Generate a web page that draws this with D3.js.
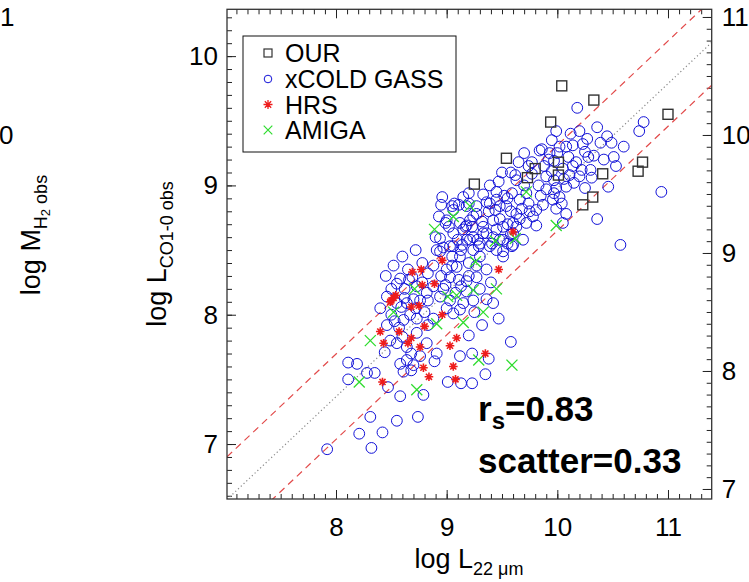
<!DOCTYPE html>
<html>
<head>
<meta charset="utf-8">
<script src="https://cdn.jsdelivr.net/npm/d3@7"></script>
<style>
  html, body { margin: 0; padding: 0; background: #fff; }
  svg { display: block; font-family: "Liberation Sans", Arial, Helvetica, sans-serif; }
</style>
</head>
<body>
<svg id="chart" width="749" height="582"></svg>
<script>
// ---- data (log luminosities) ----
const ourX = [10.04, 10.33, 11.00, 9.94, 9.54, 9.25, 10.01, 10.01, 9.80, 9.73, 10.41, 10.77, 10.73, 10.32, 10.23];
const ourY = [9.77, 9.66, 9.55, 9.49, 9.21, 9.01, 9.18, 9.08, 9.13, 9.06, 9.09, 9.18, 9.11, 8.91, 8.85];

const coldX = [10.18, 10.78, 10.74, 9.99, 10.20, 10.36, 10.27, 10.39, 10.49, 10.23, 10.14, 10.08, 9.86, 10.51, 10.53,
  10.28, 10.22, 10.30, 10.14, 10.05, 10.11, 10.20, 10.31, 10.08, 10.46, 10.94, 10.36, 10.57, 9.92, 9.97,
  9.88, 9.95, 9.90, 9.97, 9.99, 9.97, 10.02, 10.04, 10.08, 10.05, 9.84, 9.77, 9.74, 9.77, 9.83,
  9.96, 9.99, 9.87, 9.81, 9.78, 9.74, 9.66, 9.72, 9.63, 9.59, 9.47, 9.39, 9.33, 9.45, 9.48,
  9.39, 9.44, 9.27, 9.20, 9.11, 9.05, 8.96, 8.95, 8.99, 9.06, 9.18, 9.24, 9.32, 9.36, 9.45,
  9.48, 9.41, 9.51, 9.63, 9.72, 9.81, 9.69, 9.60, 9.29, 9.21, 9.14, 9.03, 8.94, 8.72,
  8.94, 8.91, 8.88, 8.58, 8.69, 8.73, 8.46, 9.42, 9.47, 8.46, 9.20, 9.58, 8.44, 8.89, 9.12,
  9.23, 9.38, 8.11, 8.19, 8.11, 8.28, 8.35, 8.47, 8.58, 8.79, 9.01, 9.13, 9.23, 9.35, 8.31,
  8.55, 8.74, 8.21, 8.42, 8.32, 7.92,
  8.82, 8.88, 8.99, 9.03, 9.11, 9.18, 9.27, 9.36, 9.00, 9.09, 8.83, 8.55, 8.59, 8.64, 8.76,
  8.83, 8.94, 9.03, 9.08, 9.15, 9.24, 8.53, 8.61, 8.67, 8.73, 8.88, 9.06, 9.12, 8.49, 8.55,
  8.64, 8.68, 8.82, 8.91, 8.58, 8.64, 8.70, 8.76, 8.61, 8.68, 9.17, 9.24, 9.33, 9.42, 9.51,
  9.60, 9.20, 9.36, 9.06, 9.24, 9.45, 9.51,
  9.06, 9.18, 9.27, 9.54, 9.63, 9.00, 9.12, 9.21, 9.33, 9.42, 9.51, 9.60, 9.18, 9.30, 9.39,
  9.59, 8.45, 8.52, 8.60, 8.65, 8.78, 8.50, 8.62, 8.40, 8.70, 8.80, 9.18, 9.30, 9.36, 9.25,
  9.32, 9.40, 9.20, 9.30, 9.12, 9.55, 9.55, 9.58, 9.52, 9.68, 9.50, 9.58, 9.65, 9.70, 9.95,
  10.00, 10.10, 10.15, 10.25, 10.42, 10.45, 10.60,
  8.90, 8.97, 9.05, 9.10, 9.15, 9.02, 8.93, 9.07, 9.15, 9.23, 9.28, 9.13,
  8.50, 8.57, 8.62, 8.72, 8.78, 8.66, 8.55, 8.83, 8.73, 8.60,
  9.55, 9.62, 9.70, 9.66, 9.75, 9.85, 9.90, 9.58, 9.45, 9.38, 9.48,
  10.02, 10.12, 10.17, 10.25, 10.33, 9.93, 10.06,
  8.95, 9.00, 9.05, 9.13, 9.20, 9.27, 8.97];
const coldY = [9.60, 9.49, 9.42, 9.42, 9.42, 9.45, 9.36, 9.33, 9.33, 9.32, 9.31, 9.30, 9.28, 9.22, 9.15,
  9.22, 9.12, 9.12, 9.15, 9.13, 9.08, 9.07, 9.06, 8.99, 8.99, 8.95, 8.74, 8.54, 9.20, 9.19,
  9.15, 9.11, 9.07, 9.04, 8.98, 8.94, 8.91, 8.86, 8.78, 8.71, 9.27, 9.18, 9.15, 9.09, 9.00,
  8.89, 8.82, 8.85, 8.81, 8.76, 8.86, 8.89, 8.94, 9.04, 8.94, 9.03, 9.00, 8.93, 8.89, 8.84,
  8.86, 8.81, 8.84, 8.94, 8.85, 8.84, 8.91, 8.85, 8.71, 8.63, 8.69, 8.76, 8.72, 8.63, 8.66,
  8.58, 8.55, 8.49, 8.68, 8.71, 8.69, 8.58, 8.54, 8.53, 8.58, 8.54, 8.53, 8.49, 8.50,
  8.59, 8.50, 8.38, 8.28, 8.29, 8.22, 8.14, 8.09, 7.97, 7.92, 7.84, 7.79, 7.71, 7.64, 7.68,
  7.70, 7.66, 7.63, 7.62, 7.50, 7.55, 7.55, 7.44, 7.37, 7.38, 7.48, 7.47, 7.47, 7.54, 7.21,
  7.18, 7.21, 7.08, 7.09, 6.97, 6.96,
  8.17, 8.22, 8.23, 8.29, 8.27, 8.26, 8.29, 8.35, 8.35, 8.37, 8.32, 8.09, 8.06, 8.09, 8.11,
  8.11, 8.14, 8.11, 8.17, 8.09, 8.11, 7.95, 7.96, 8.00, 7.97, 7.97, 8.01, 8.04, 7.80, 7.78,
  7.75, 7.70, 7.78, 7.70, 7.62, 7.65, 7.61, 7.68, 7.56, 7.57, 8.68, 8.60, 8.63, 8.60, 8.58,
  8.63, 8.86, 8.87, 8.53, 8.50, 8.50, 8.45,
  8.81, 8.84, 8.78, 8.84, 8.78, 8.73, 8.71, 8.73, 8.68, 8.73, 8.68, 8.71, 8.58, 8.55, 8.53,
  8.53, 8.30, 8.38, 8.45, 8.35, 8.40, 8.20, 8.20, 8.05, 8.12, 8.02, 8.18, 8.20, 8.12, 8.02,
  7.92, 8.25, 8.40, 8.45, 8.45, 8.55, 8.70, 8.80, 8.92, 8.82, 9.10, 9.10, 9.18, 9.25, 9.35,
  9.25, 9.22, 9.02, 8.98, 9.20, 9.38, 9.30,
  8.60, 8.52, 8.45, 8.58, 8.66, 8.68, 8.76, 8.86, 8.91, 8.68, 8.58, 8.50,
  8.00, 7.90, 8.13, 8.05, 8.25, 8.27, 8.24, 7.92, 7.86, 7.83,
  8.90, 9.08, 9.00, 8.74, 8.80, 8.92, 8.97, 8.62, 8.95, 8.80, 8.74,
  9.30, 9.40, 9.18, 9.26, 9.23, 9.25, 9.05,
  8.30, 8.05, 8.38, 8.22, 8.30, 8.38, 8.20];

const hrsX = [9.60, 8.69, 8.77, 8.96, 9.47, 8.89, 8.78, 8.50, 8.52, 8.49, 8.54, 8.68, 8.75, 8.96, 8.80,
  8.40, 8.57, 8.43, 8.65, 8.68, 8.76, 9.03, 9.09, 9.35, 9.06, 8.79, 8.84, 9.08, 8.42];
const hrsY = [8.64, 8.33, 8.35, 8.42, 8.35, 8.24, 8.23, 8.11, 8.13, 8.10, 8.15, 8.06, 8.07, 8.00, 7.91,
  7.87, 7.87, 7.78, 7.78, 7.82, 7.75, 7.76, 7.82, 7.70, 7.60, 7.59, 7.52, 7.50, 7.48];

const amigaX = [9.72, 9.21, 9.06, 8.89, 9.62, 9.99, 8.71, 8.31, 8.52, 8.91, 9.15, 9.33, 9.24, 9.09, 9.01,
  9.26, 9.45, 9.29, 9.59, 8.21, 8.73, 9.44];
const amigaY = [8.95, 8.84, 8.76, 8.66, 8.59, 8.69, 8.20, 7.80, 8.02, 7.93, 7.94, 8.02, 8.19, 8.15, 8.14,
  8.41, 8.20, 7.65, 7.61, 7.48, 7.42, 8.57];

// fit line and its scatter band
const fitSlope = 0.807, fitIntercept = 0.91, fitScatter = 0.33;

// axis ticks
const xMajor = [8, 9, 10, 11];
const yMajor = [7, 8, 9, 10];
const yRightMajor = [7, 8, 9, 10, 11];

const legendNames = ["OUR", "xCOLD GASS", "HRS", "AMIGA"];

// ---- layout ----
const frame = { left: 227, right: 711.7, top: 9.3, bottom: 499 };
const x = d3.scaleLinear().domain([7.015, 11.395]).range([frame.left, frame.right]);
const y = d3.scaleLinear().domain([6.575, 10.362]).range([frame.bottom, frame.top]);
const yRight = d3.scaleLinear().domain([6.915, 11.065]).range([frame.bottom, frame.top]);

const svg = d3.select("#chart");
const ink = "#222";
const fontFam = '"Liberation Sans", Arial, Helvetica, sans-serif';

svg.append("defs").append("clipPath").attr("id", "plotClip")
  .append("rect")
  .attr("x", frame.left).attr("y", frame.top)
  .attr("width", frame.right - frame.left).attr("height", frame.bottom - frame.top);

// ---- axes (IDL-style inward ticks) ----
function minorRange(scale) {
  const [a, b] = scale.domain();
  return d3.range(Math.ceil(a * 10), Math.floor(b * 10) + 1).map(v => v / 10);
}
function styleAxis(g, size) {
  g.select(".domain").remove();
  g.attr("font-family", fontFam).attr("font-size", size);
  g.selectAll(".tick line").attr("stroke", ink).attr("stroke-width", 1);
  g.selectAll(".tick text").attr("fill", "#000");
}

// bottom
svg.append("g").attr("transform", `translate(0,${frame.bottom})`)
  .call(d3.axisBottom(x).tickValues(minorRange(x)).tickFormat("").tickSize(-5).tickSizeOuter(0))
  .call(g => styleAxis(g, 26));
svg.append("g").attr("transform", `translate(0,${frame.bottom})`)
  .call(d3.axisBottom(x).tickValues(xMajor).tickFormat(d3.format("d")).tickSize(-9).tickPadding(19).tickSizeOuter(0))
  .call(g => styleAxis(g, 26));
// top
svg.append("g").attr("transform", `translate(0,${frame.top})`)
  .call(d3.axisTop(x).tickValues(minorRange(x)).tickFormat("").tickSize(-5).tickSizeOuter(0))
  .call(g => styleAxis(g, 26));
svg.append("g").attr("transform", `translate(0,${frame.top})`)
  .call(d3.axisTop(x).tickValues(xMajor).tickFormat("").tickSize(-9).tickSizeOuter(0))
  .call(g => styleAxis(g, 26));
// left
svg.append("g").attr("transform", `translate(${frame.left},0)`)
  .call(d3.axisLeft(y).tickValues(minorRange(y)).tickFormat("").tickSize(-5).tickSizeOuter(0))
  .call(g => styleAxis(g, 26));
svg.append("g").attr("transform", `translate(${frame.left},0)`)
  .call(d3.axisLeft(y).tickValues(yMajor).tickFormat(d3.format("d")).tickSize(-9).tickPadding(9).tickSizeOuter(0))
  .call(g => styleAxis(g, 26));
// right
svg.append("g").attr("transform", `translate(${frame.right},0)`)
  .call(d3.axisRight(yRight).tickValues(minorRange(yRight)).tickFormat("").tickSize(-5).tickSizeOuter(0))
  .call(g => styleAxis(g, 26));
svg.append("g").attr("transform", `translate(${frame.right},0)`)
  .call(d3.axisRight(yRight).tickValues(yRightMajor).tickFormat(d3.format("d")).tickSize(-9).tickPadding(10).tickSizeOuter(0))
  .call(g => styleAxis(g, 26));

// ---- fit line and scatter band ----
const lines = svg.append("g").attr("clip-path", "url(#plotClip)");
const xs = x.domain();
[[0, "#888", "1.2,2.6"], [fitScatter, "#e24a4a", "7,5"], [-fitScatter, "#e24a4a", "7,5"]].forEach(([off, col, dash]) => {
  lines.append("line")
    .attr("x1", x(xs[0])).attr("y1", y(fitSlope * xs[0] + fitIntercept + off))
    .attr("x2", x(xs[1])).attr("y2", y(fitSlope * xs[1] + fitIntercept + off))
    .attr("stroke", col).attr("stroke-width", 1.2).attr("stroke-dasharray", dash);
});

// ---- markers ----
const blue = "#1212d8", red = "#ee1c1c", green = "#2fdc2f", squareInk = "#333";
function asteriskPath(r) {
  const a = r * Math.SQRT1_2;
  return `M0,${-r}L0,${r}M${-r},0L${r},0M${-a},${-a}L${a},${a}M${-a},${a}L${a},${-a}`;
}
function crossPath(r) {
  return `M${-r},${-r}L${r},${r}M${-r},${r}L${r},${-r}`;
}
const pts = svg.append("g").attr("clip-path", "url(#plotClip)");

pts.append("g").selectAll("circle").data(d3.zip(coldX, coldY)).join("circle")
  .attr("cx", d => x(d[0])).attr("cy", d => y(d[1])).attr("r", 5.4)
  .attr("fill", "none").attr("stroke", blue).attr("stroke-width", 1);

pts.append("g").selectAll("path").data(d3.zip(amigaX, amigaY)).join("path")
  .attr("transform", d => `translate(${x(d[0])},${y(d[1])})`)
  .attr("d", crossPath(5.5)).attr("stroke", green).attr("stroke-width", 1.3).attr("fill", "none");

pts.append("g").selectAll("path").data(d3.zip(hrsX, hrsY)).join("path")
  .attr("transform", d => `translate(${x(d[0])},${y(d[1])})`)
  .attr("d", asteriskPath(4.3)).attr("stroke", red).attr("stroke-width", 1.6).attr("fill", "none");

pts.append("g").selectAll("rect").data(d3.zip(ourX, ourY)).join("rect")
  .attr("x", d => x(d[0]) - 5).attr("y", d => y(d[1]) - 5).attr("width", 10).attr("height", 10)
  .attr("fill", "none").attr("stroke", squareInk).attr("stroke-width", 1.4);

// ---- frame ----
svg.append("rect")
  .attr("x", frame.left).attr("y", frame.top)
  .attr("width", frame.right - frame.left).attr("height", frame.bottom - frame.top)
  .attr("fill", "none").attr("stroke", "#333").attr("stroke-width", 1.3);

// ---- legend ----
const lg = svg.append("g");
lg.append("rect").attr("x", 243).attr("y", 36).attr("width", 213).attr("height", 116)
  .attr("fill", "#fff").attr("stroke", "#111").attr("stroke-width", 1);
const rowY = [53, 79, 104.5, 130];
const symX = 268;
lg.append("rect").attr("x", symX - 4).attr("y", rowY[0] - 4).attr("width", 8).attr("height", 8)
  .attr("fill", "none").attr("stroke", squareInk).attr("stroke-width", 1.2);
lg.append("circle").attr("cx", symX).attr("cy", rowY[1]).attr("r", 3.8)
  .attr("fill", "none").attr("stroke", blue).attr("stroke-width", 1);
lg.append("path").attr("transform", `translate(${symX},${rowY[2]})`).attr("d", asteriskPath(4.5))
  .attr("stroke", red).attr("stroke-width", 1.3).attr("fill", "none");
lg.append("path").attr("transform", `translate(${symX},${rowY[3]})`).attr("d", crossPath(4.3))
  .attr("stroke", green).attr("stroke-width", 1.2).attr("fill", "none");
lg.selectAll("text.lab").data(legendNames).join("text").attr("class", "lab")
  .attr("x", 285).attr("y", (d, i) => rowY[i] + 9)
  .attr("font-size", 25).attr("fill", "#000").text(d => d);

// ---- axis titles ----
const xt = svg.append("text").attr("x", 469).attr("y", 568).attr("text-anchor", "middle")
  .attr("font-size", 27).attr("fill", "#000");
xt.append("tspan").text("log L");
xt.append("tspan").attr("dy", 7).attr("font-size", 18).text("22 \u03bcm");

const yt = svg.append("text").attr("transform", "translate(166,254) rotate(-90)")
  .attr("text-anchor", "middle").attr("font-size", 27).attr("fill", "#000");
yt.append("tspan").text("log L");
yt.append("tspan").attr("dy", 7).attr("font-size", 18).text("CO1-0 obs");

// neighbouring panel edge (left)
const lt = svg.append("text").attr("transform", "translate(40,235) rotate(-90)")
  .attr("text-anchor", "middle").attr("font-size", 27).attr("fill", "#000");
lt.append("tspan").text("log M");
lt.append("tspan").attr("dy", 7).attr("font-size", 18).text("H");
lt.append("tspan").attr("dy", 3).attr("font-size", 13).text("2");
lt.append("tspan").attr("dy", -3).attr("font-size", 18).text(" obs");
svg.append("text").attr("x", 0).attr("y", yRight(11) + 9).attr("font-size", 26).attr("fill", "#000").text("1");
svg.append("text").attr("x", -1).attr("y", yRight(10) + 9).attr("font-size", 26).attr("fill", "#000").text("0");

// ---- statistics ----
const st = svg.append("g").attr("font-weight", "bold").attr("fill", "#000");
const rs = st.append("text").attr("x", 478).attr("y", 421).attr("font-size", 35);
rs.append("tspan").text("r");
rs.append("tspan").attr("dy", 8).attr("font-size", 24).text("s");
rs.append("tspan").attr("dy", -8).text("=0.83");
st.append("text").attr("x", 478).attr("y", 473).attr("font-size", 35).text("scatter=0.33");
</script>
</body>
</html>
